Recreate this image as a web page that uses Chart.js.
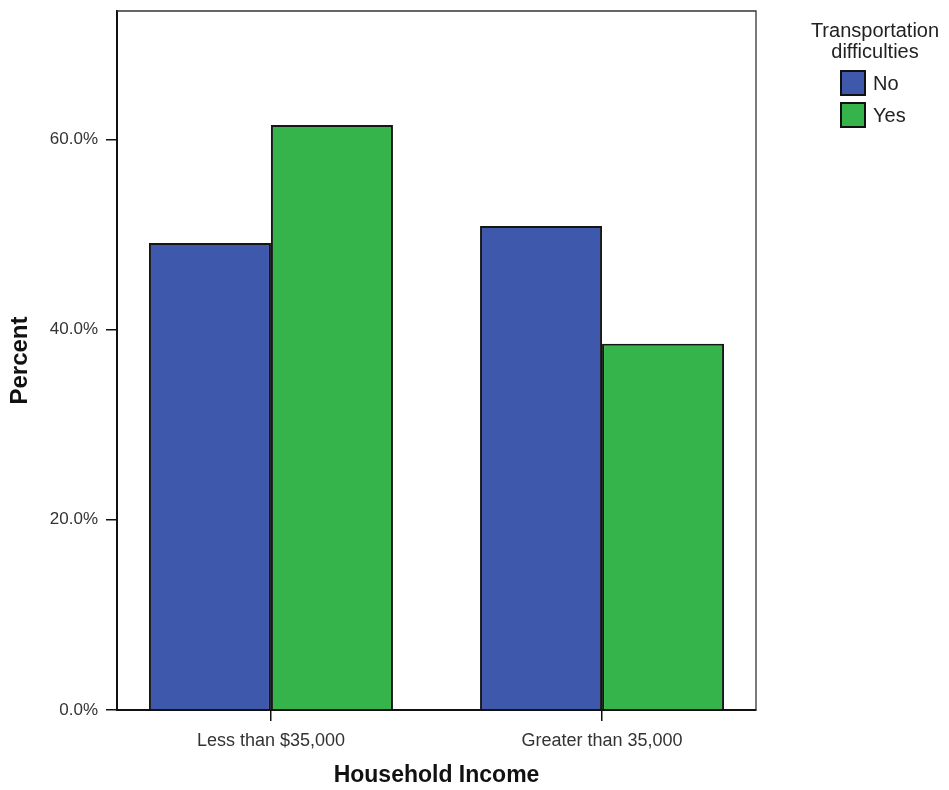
<!DOCTYPE html>
<html>
<head>
<meta charset="utf-8">
<script src="https://cdn.jsdelivr.net/npm/chart.js@4"></script>
<style>
  body { margin: 0; background: #fff; }
  #wrap { width: 949px; height: 790px; }
</style>
</head>
<body>
<div id="wrap"><canvas id="incomeChart"></canvas></div>
<script>
// data
const incomeLevels = ['Less than $35,000', 'Greater than 35,000'];
const noValues = [49.1, 50.9];
const yesValues = [61.5, 38.5];
const yTicks = [0, 20, 40, 60];
const legendTitle = ['Transportation', 'difficulties'];

const FONT = "'Liberation Sans', Arial, sans-serif";

// top + right edges of the frame (left/bottom come from the axes)
const framePlugin = {
  id: 'frame',
  afterDraw(chart) {
    const a = chart.chartArea;
    const c = chart.ctx;
    c.save();
    c.strokeStyle = '#333';
    c.lineWidth = 1.3;
    c.beginPath();
    c.moveTo(a.left, a.top);
    c.lineTo(a.right, a.top);
    c.lineTo(a.right, a.bottom);
    c.stroke();
    c.restore();
  }
};

// legend with two-line title, to the right of the frame
const legendPlugin = {
  id: 'sideLegend',
  afterDraw(chart) {
    const a = chart.chartArea;
    const c = chart.ctx;
    const cx = a.right + 119;
    c.save();
    c.fillStyle = '#222';
    c.font = '20px ' + FONT;
    c.textAlign = 'center';
    c.textBaseline = 'middle';
    legendTitle.forEach((t, i) => c.fillText(t, cx, 31 + i * 21));
    chart.data.datasets.forEach((ds, i) => {
      const y = 71 + i * 32;
      c.fillStyle = ds.backgroundColor;
      c.fillRect(a.right + 85, y, 24, 24);
      c.strokeStyle = '#111';
      c.lineWidth = 2;
      c.strokeRect(a.right + 85, y, 24, 24);
      c.fillStyle = '#222';
      c.textAlign = 'left';
      c.fillText(ds.label, a.right + 117, y + 13);
    });
    c.restore();
  }
};

const ctx = document.getElementById('incomeChart');

const incomeChart = new Chart(ctx, {
  type: 'bar',
  data: {
    datasets: [{
      label: 'No',
      data: noValues.map((v, i) => ({ x: i, y: v })),
      backgroundColor: '#3e58ac',
      borderColor: '#151515',
      borderWidth: 2
    }, {
      label: 'Yes',
      data: yesValues.map((v, i) => ({ x: i, y: v })),
      backgroundColor: '#34b44a',
      borderColor: '#151515',
      borderWidth: 2
    }]
  },
  options: {
    responsive: true,
    maintainAspectRatio: false,
    animation: false,
    categoryPercentage: 0.737,
    barPercentage: 1,
    layout: { padding: { top: 11, right: 193, left: 0, bottom: 0 } },
    plugins: {
      legend: { display: false },
      tooltip: { enabled: false }
    },
    scales: {
      x: {
        type: 'linear',
        offset: false,
        min: -0.465,
        max: 1.465,
        afterBuildTicks: axis => { axis.ticks = incomeLevels.map((c, i) => ({ value: i })); },
        afterFit: axis => { axis.height = 80; axis.paddingLeft = 0; axis.paddingRight = 0; },
        grid: { offset: false, drawOnChartArea: false, drawTicks: true, tickLength: 11, color: '#111', lineWidth: 1.5 },
        border: { display: true, color: '#111', width: 2 },
        ticks: {
          autoSkip: false,
          maxRotation: 0,
          padding: 9,
          color: '#333',
          font: { family: FONT, size: 18 },
          callback: v => incomeLevels[v]
        },
        title: {
          display: true,
          text: 'Household Income',
          color: '#111',
          font: { family: FONT, size: 23, weight: 'bold' },
          padding: { top: 0, bottom: 1 }
        }
      },
      y: {
        min: 0,
        max: 73.5,
        afterBuildTicks: axis => { axis.ticks = yTicks.map(v => ({ value: v })); },
        afterFit: axis => { axis.width = 117; axis.paddingTop = 0; axis.paddingBottom = 0; },
        grid: { drawOnChartArea: false, drawTicks: true, tickLength: 11, color: '#111', lineWidth: 1.5 },
        border: { display: true, color: '#111', width: 2 },
        ticks: {
          padding: 8,
          color: '#333',
          font: { family: FONT, size: 17 },
          callback: v => v.toFixed(1) + '%'
        },
        title: {
          display: true,
          text: 'Percent',
          color: '#111',
          font: { family: FONT, size: 24, weight: 'bold' },
          padding: { top: 6, bottom: 0 }
        }
      }
    }
  },
  plugins: [framePlugin, legendPlugin]
});
</script>
</body>
</html>
